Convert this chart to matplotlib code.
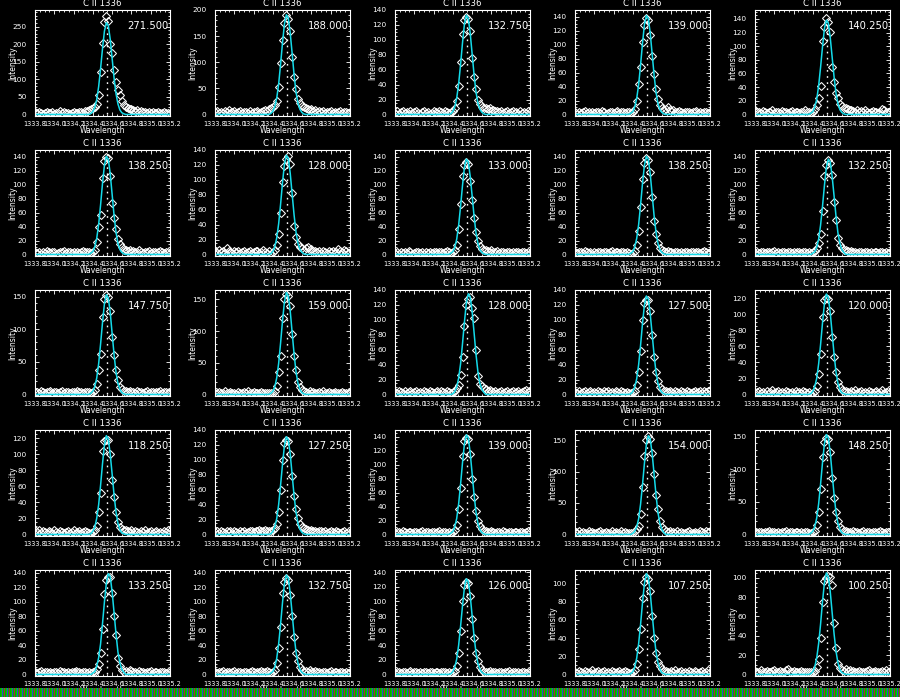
import numpy as np
import matplotlib
matplotlib.use("Agg")
import matplotlib.pyplot as plt
from matplotlib.ticker import MultipleLocator, FormatStrFormatter

plt.rcParams['font.family'] = ['Liberation Sans Narrow', 'DejaVu Sans']

# wavelength grid of the spectra (Angstrom), fit only kept around the line core
wave = np.round(np.linspace(1333.80, 1335.20, 71), 2)
core_slice = slice(29, 47)
line_center = 1334.545

title = "C II 1336"
labels = [271.500, 188.000, 132.750, 139.000, 140.250,
          138.250, 128.000, 133.000, 138.250, 132.250,
          147.750, 159.000, 128.000, 127.500, 120.000,
          118.250, 127.250, 139.000, 154.000, 148.250,
          133.250, 132.750, 126.000, 107.250, 100.250]
ymax = [297, 200, 140, 150, 153,
        150, 140, 150, 150, 150,
        160, 165, 140, 140, 130,
        130, 140, 150, 166, 160,
        144, 144, 143, 115, 108]
ystep = [50, 50, 20, 20, 20,
         20, 20, 20, 20, 20,
         50, 50, 20, 20, 20,
         20, 20, 20, 50, 50,
         20, 20, 20, 20, 20]

# measured intensities: left wing (29) + core (18) + right wing (24)
spec_01 = ([6, 3, 8, 4, 2, 5, 7, 3, 4, 6, 2, 5, 3, 9, 4, 6, 3, 5, 2, 4, 7, 5, 3, 6, 8, 5, 9, 11, 14]
           + [16, 18, 22, 30, 55, 120, 204, 262, 279, 265, 200, 176, 125, 92, 70, 56, 38, 28]
           + [22, 18, 15, 16, 12, 10, 13, 8, 9, 6, 7, 5, 8, 4, 6, 3, 5, 7, 4, 3, 6, 4, 5, 3])
spec_02 = ([4, 7, 3, 5, 2, 6, 4, 8, 3, 5, 6, 2, 4, 7, 3, 5, 4, 2, 6, 3, 5, 4, 7, 3, 5, 6, 8, 7, 10]
           + [12, 14, 18, 26, 52, 98, 142, 176, 190, 183, 160, 110, 72, 48, 30, 22, 17, 14]
           + [12, 10, 9, 11, 7, 8, 5, 6, 4, 7, 3, 5, 4, 6, 3, 5, 2, 4, 6, 3, 5, 4, 3, 5])
spec_03 = ([2, 4, 1, 3, 5, 2, 3, 1, 4, 2, 3, 5, 2, 1, 3, 4, 2, 3, 1, 2, 4, 3, 2, 5, 3, 2, 4, 3, 2]
           + [3, 5, 9, 18, 38, 70, 108, 126, 131, 128, 112, 76, 50, 34, 20, 14, 10, 8]
           + [9, 7, 8, 5, 6, 4, 5, 3, 4, 2, 3, 4, 2, 3, 5, 2, 3, 1, 4, 2, 3, 2, 4, 3])
spec_04 = ([3, 1, 4, 2, 3, 5, 2, 4, 1, 3, 2, 4, 3, 2, 5, 3, 1, 2, 4, 3, 2, 3, 5, 2, 4, 3, 2, 4, 3]
           + [2, 4, 8, 20, 44, 68, 104, 128, 139, 136, 114, 84, 58, 36, 22, 14, 9, 7]
           + [8, 10, 7, 5, 6, 4, 3, 5, 4, 2, 3, 4, 3, 2, 4, 3, 5, 2, 3, 2, 4, 3, 2, 3])
spec_05 = ([6, 3, 4, 2, 5, 3, 2, 4, 3, 6, 2, 3, 4, 2, 5, 3, 4, 2, 3, 5, 2, 4, 3, 2, 3, 4, 6, 3, 4]
           + [2, 4, 8, 14, 24, 42, 107, 128, 141, 136, 121, 69, 48, 32, 24, 16, 12, 9]
           + [10, 8, 6, 7, 5, 4, 6, 3, 5, 4, 6, 3, 2, 4, 5, 3, 4, 2, 3, 8, 6, 4, 3, 5])
spec_06 = ([3, 2, 4, 1, 3, 2, 5, 3, 2, 4, 3, 1, 2, 4, 3, 5, 2, 3, 4, 2, 3, 1, 4, 2, 3, 5, 3, 4, 3]
           + [2, 3, 7, 18, 40, 56, 110, 134, 140, 138, 112, 74, 52, 36, 22, 15, 10, 7]
           + [6, 5, 7, 4, 5, 3, 4, 6, 3, 2, 4, 3, 5, 2, 3, 4, 2, 3, 5, 3, 2, 4, 3, 2])
spec_07 = ([4, 2, 6, 3, 5, 2, 8, 4, 3, 2, 5, 3, 4, 2, 3, 5, 2, 3, 4, 2, 3, 5, 4, 2, 3, 6, 3, 2, 4]
           + [1, 3, 6, 12, 28, 55, 97, 119, 128, 132, 121, 83, 38, 23, 14, 10, 8, 6]
           + [8, 10, 6, 7, 5, 4, 3, 5, 2, 4, 3, 2, 4, 3, 5, 2, 3, 7, 5, 3, 6, 4, 2, 3])
spec_08 = ([2, 3, 1, 4, 2, 3, 2, 5, 3, 1, 2, 4, 3, 2, 3, 1, 4, 2, 3, 2, 4, 3, 2, 3, 4, 2, 3, 5, 3]
           + [2, 3, 6, 14, 36, 72, 112, 128, 133, 130, 106, 78, 52, 32, 20, 12, 8, 6]
           + [6, 5, 4, 6, 3, 4, 5, 2, 3, 4, 2, 3, 4, 2, 3, 2, 4, 3, 2, 3, 4, 2, 3, 2])
spec_09 = ([3, 2, 4, 3, 2, 5, 3, 2, 4, 1, 3, 2, 4, 3, 2, 4, 3, 2, 3, 5, 2, 3, 4, 2, 3, 4, 2, 3, 2]
           + [1, 2, 5, 14, 34, 68, 108, 132, 139, 136, 118, 82, 48, 30, 16, 9, 6, 5]
           + [4, 5, 3, 4, 2, 3, 4, 2, 3, 2, 4, 3, 2, 4, 3, 2, 3, 4, 2, 3, 5, 3, 2, 3])
spec_10 = ([2, 3, 2, 4, 3, 2, 3, 4, 2, 3, 5, 2, 3, 2, 4, 3, 2, 3, 4, 2, 3, 2, 4, 3, 2, 3, 4, 2, 3]
           + [2, 3, 5, 9, 16, 30, 63, 112, 128, 136, 132, 114, 76, 49, 24, 13, 9, 7]
           + [6, 5, 4, 5, 3, 4, 2, 3, 4, 2, 3, 4, 2, 3, 2, 4, 3, 2, 3, 4, 2, 3, 2, 4])
spec_11 = ([3, 4, 2, 5, 3, 2, 4, 3, 5, 2, 3, 4, 2, 3, 5, 2, 4, 3, 2, 3, 4, 2, 5, 3, 4, 2, 3, 4, 3]
           + [2, 4, 7, 16, 38, 62, 118, 146, 152, 150, 128, 88, 60, 38, 22, 12, 8, 5]
           + [5, 4, 6, 3, 4, 2, 5, 3, 4, 2, 3, 5, 2, 4, 3, 2, 4, 3, 5, 2, 3, 4, 2, 3])
spec_12 = ([2, 3, 4, 2, 3, 5, 2, 3, 4, 2, 3, 1, 4, 2, 3, 4, 2, 5, 3, 2, 4, 3, 2, 3, 4, 2, 3, 2, 3]
           + [2, 3, 6, 14, 36, 60, 120, 150, 159, 156, 140, 96, 60, 38, 20, 12, 7, 5]
           + [4, 3, 5, 2, 4, 3, 2, 4, 3, 5, 2, 3, 4, 2, 3, 4, 2, 3, 2, 4, 3, 2, 3, 4])
spec_13 = ([3, 2, 4, 3, 2, 4, 2, 3, 5, 2, 3, 4, 2, 3, 2, 5, 3, 2, 4, 3, 2, 3, 4, 2, 5, 3, 2, 4, 3]
           + [2, 3, 4, 8, 13, 26, 50, 92, 120, 128, 130, 116, 102, 60, 25, 14, 11, 9]
           + [7, 5, 6, 4, 3, 5, 2, 3, 4, 2, 3, 4, 2, 3, 5, 2, 3, 4, 2, 3, 4, 6, 3, 5])
spec_14 = ([3, 2, 4, 2, 3, 5, 2, 3, 4, 2, 3, 2, 4, 3, 2, 4, 3, 5, 2, 3, 2, 4, 3, 2, 4, 3, 2, 3, 2]
           + [2, 3, 5, 12, 30, 58, 100, 122, 127, 126, 112, 80, 50, 30, 18, 10, 7, 5]
           + [4, 3, 5, 3, 2, 4, 3, 2, 4, 3, 2, 5, 3, 2, 3, 4, 2, 3, 4, 2, 5, 3, 4, 6])
spec_15 = ([2, 3, 4, 2, 3, 1, 4, 2, 3, 5, 2, 3, 4, 2, 3, 2, 4, 3, 2, 3, 1, 4, 2, 3, 2, 4, 3, 2, 3]
           + [1, 2, 4, 10, 26, 50, 96, 118, 120, 119, 104, 72, 46, 28, 16, 9, 6, 4]
           + [4, 3, 2, 4, 3, 5, 2, 3, 4, 2, 3, 2, 4, 3, 2, 3, 4, 2, 3, 5, 2, 3, 4, 3])
spec_16 = ([5, 3, 6, 2, 4, 3, 2, 4, 3, 2, 5, 3, 2, 4, 3, 2, 3, 4, 2, 3, 5, 2, 3, 4, 2, 3, 4, 3, 2]
           + [2, 3, 5, 10, 28, 52, 104, 116, 118, 117, 100, 68, 46, 28, 16, 9, 7, 5]
           + [5, 4, 3, 5, 2, 4, 3, 2, 4, 3, 5, 2, 3, 4, 2, 3, 4, 2, 3, 2, 4, 3, 5, 4])
spec_17 = ([3, 4, 2, 5, 3, 2, 4, 3, 5, 2, 4, 3, 2, 5, 3, 4, 2, 3, 5, 4, 3, 5, 4, 6, 5, 4, 6, 5, 4]
           + [4, 6, 8, 14, 30, 60, 100, 122, 127, 125, 108, 78, 52, 34, 22, 14, 10, 8]
           + [7, 6, 5, 6, 4, 5, 3, 4, 5, 3, 4, 2, 3, 4, 3, 2, 4, 3, 2, 3, 4, 2, 3, 2])
spec_18 = ([2, 4, 3, 2, 5, 3, 2, 4, 3, 2, 4, 3, 2, 3, 5, 2, 3, 4, 2, 3, 4, 2, 3, 5, 2, 3, 4, 2, 3]
           + [2, 3, 6, 14, 36, 66, 112, 134, 139, 137, 116, 80, 54, 34, 20, 12, 8, 5]
           + [5, 4, 3, 5, 4, 2, 3, 4, 2, 5, 3, 2, 4, 3, 2, 3, 4, 2, 3, 4, 2, 3, 5, 3])
spec_19 = ([4, 2, 5, 3, 4, 2, 3, 5, 2, 4, 3, 2, 4, 5, 3, 2, 4, 3, 2, 5, 3, 4, 2, 3, 5, 3, 4, 2, 3]
           + [2, 3, 5, 9, 14, 32, 76, 124, 150, 157, 152, 130, 96, 62, 40, 22, 12, 8]
           + [6, 4, 5, 3, 4, 2, 5, 3, 4, 2, 3, 4, 5, 2, 3, 4, 2, 3, 5, 4, 3, 5, 4, 6])
spec_20 = ([3, 2, 4, 3, 2, 4, 3, 5, 2, 3, 4, 2, 3, 2, 4, 3, 5, 2, 3, 4, 2, 3, 4, 2, 3, 2, 4, 3, 2]
           + [2, 3, 6, 14, 34, 70, 118, 142, 148, 146, 126, 86, 56, 34, 20, 12, 8, 6]
           + [5, 3, 4, 2, 5, 3, 4, 2, 3, 5, 2, 4, 3, 2, 4, 3, 2, 3, 5, 4, 2, 3, 4, 3])
spec_21 = ([4, 2, 3, 5, 2, 3, 4, 2, 3, 2, 4, 3, 2, 5, 3, 4, 2, 3, 2, 4, 3, 5, 4, 3, 2, 4, 3, 2, 3]
           + [2, 3, 4, 8, 14, 30, 63, 111, 130, 134, 135, 112, 80, 54, 22, 12, 6, 4]
           + [5, 4, 6, 5, 3, 4, 2, 5, 4, 3, 2, 4, 3, 5, 2, 3, 4, 2, 3, 4, 3, 2, 4, 3])
spec_22 = ([3, 2, 4, 3, 5, 2, 3, 4, 2, 3, 5, 2, 4, 3, 2, 3, 4, 2, 3, 5, 3, 2, 4, 3, 5, 4, 3, 5, 4]
           + [2, 3, 6, 16, 36, 66, 112, 128, 133, 130, 110, 80, 52, 30, 18, 10, 6, 4]
           + [5, 4, 6, 3, 4, 5, 3, 4, 2, 3, 4, 2, 3, 5, 2, 3, 4, 2, 3, 4, 2, 3, 2, 4])
spec_23 = ([2, 4, 3, 2, 3, 4, 2, 3, 5, 2, 3, 4, 2, 3, 2, 4, 3, 2, 3, 4, 2, 3, 4, 2, 3, 4, 3, 2, 3]
           + [2, 3, 5, 12, 30, 60, 100, 122, 126, 125, 108, 76, 50, 30, 18, 10, 6, 4]
           + [4, 3, 5, 2, 4, 3, 2, 4, 3, 2, 4, 3, 5, 2, 3, 4, 2, 3, 2, 4, 3, 2, 4, 3])
spec_24 = ([3, 2, 4, 3, 2, 4, 3, 2, 3, 5, 2, 3, 4, 2, 3, 4, 2, 3, 2, 4, 3, 2, 3, 4, 2, 3, 4, 3, 2]
           + [2, 3, 5, 12, 28, 50, 84, 102, 107, 105, 92, 64, 40, 24, 14, 9, 6, 4]
           + [4, 3, 2, 4, 3, 5, 2, 3, 4, 2, 3, 2, 4, 3, 2, 4, 3, 2, 3, 4, 2, 3, 5, 3])
spec_25 = ([4, 2, 3, 5, 2, 3, 4, 2, 3, 4, 5, 2, 3, 4, 2, 3, 5, 6, 3, 2, 4, 3, 2, 3, 4, 3, 2, 3, 2]
           + [2, 3, 4, 8, 16, 38, 75, 97, 100, 102, 101, 93, 53, 27, 11, 7, 5, 4]
           + [6, 4, 5, 3, 4, 2, 3, 4, 2, 3, 2, 4, 5, 3, 2, 4, 3, 2, 3, 4, 3, 5, 3, 4])

# gaussian fit, 1334.38 - 1334.72 (zero elsewhere)
fit_01 = [3, 8, 20, 42, 79, 130, 187, 237, 261, 253, 214, 159, 104, 59, 30, 13, 5, 2]
fit_02 = [2, 6, 15, 31, 58, 96, 137, 173, 191, 185, 156, 117, 76, 43, 22, 10, 4, 1]
fit_03 = [1, 4, 10, 22, 41, 67, 96, 121, 133, 129, 109, 81, 53, 30, 15, 7, 3, 1]
fit_04 = [2, 4, 11, 23, 43, 71, 102, 129, 142, 138, 117, 87, 57, 32, 16, 7, 3, 1]
fit_05 = [2, 4, 11, 22, 42, 69, 99, 126, 138, 134, 113, 84, 55, 31, 16, 7, 3, 1]
fit_06 = [2, 4, 11, 23, 43, 71, 102, 128, 141, 137, 116, 86, 56, 32, 16, 7, 3, 1]
fit_07 = [1, 4, 10, 22, 41, 67, 96, 121, 133, 129, 109, 81, 53, 30, 15, 7, 3, 1]
fit_08 = [2, 4, 10, 22, 42, 69, 99, 125, 137, 133, 112, 84, 55, 31, 16, 7, 3, 1]
fit_09 = [2, 4, 11, 23, 43, 71, 102, 128, 141, 137, 116, 86, 56, 32, 16, 7, 3, 1]
fit_10 = [0, 2, 4, 10, 22, 42, 69, 99, 125, 137, 133, 112, 84, 55, 31, 16, 7, 3]
fit_11 = [2, 5, 12, 25, 47, 77, 110, 139, 153, 148, 126, 93, 61, 34, 17, 8, 3, 1]
fit_12 = [2, 5, 12, 26, 49, 81, 116, 146, 161, 156, 132, 98, 64, 36, 18, 8, 3, 1]
fit_13 = [0, 1, 4, 10, 22, 41, 68, 97, 123, 135, 131, 111, 83, 54, 30, 15, 7, 3]
fit_14 = [1, 4, 10, 21, 40, 66, 95, 120, 132, 128, 108, 81, 53, 30, 15, 7, 3, 1]
fit_15 = [1, 4, 10, 20, 38, 62, 89, 113, 125, 121, 102, 76, 50, 28, 14, 6, 2, 1]
fit_16 = [1, 4, 9, 20, 37, 61, 88, 111, 123, 119, 100, 75, 49, 28, 14, 6, 2, 1]
fit_17 = [1, 4, 10, 21, 40, 66, 94, 119, 131, 127, 108, 80, 52, 30, 15, 7, 3, 1]
fit_18 = [2, 4, 11, 23, 44, 72, 103, 130, 143, 139, 117, 87, 57, 32, 16, 7, 3, 1]
fit_19 = [0, 2, 5, 12, 25, 48, 79, 113, 143, 157, 152, 129, 96, 63, 35, 18, 8, 3]
fit_20 = [2, 5, 12, 25, 47, 77, 110, 139, 153, 148, 126, 93, 61, 34, 17, 8, 3, 1]
fit_21 = [0, 2, 4, 11, 23, 42, 70, 100, 126, 139, 135, 114, 85, 56, 31, 16, 7, 3]
fit_22 = [2, 4, 10, 22, 42, 69, 99, 125, 137, 133, 112, 84, 55, 31, 16, 7, 3, 1]
fit_23 = [1, 4, 10, 21, 40, 66, 94, 119, 131, 127, 108, 80, 52, 30, 15, 7, 3, 1]
fit_24 = [1, 3, 8, 18, 34, 55, 79, 100, 111, 107, 90, 67, 44, 25, 13, 6, 2, 1]
fit_25 = [1, 3, 8, 17, 32, 52, 75, 95, 105, 101, 86, 64, 42, 24, 12, 5, 2, 1]

spectra = [spec_01, spec_02, spec_03, spec_04, spec_05, spec_06, spec_07, spec_08, spec_09,
           spec_10, spec_11, spec_12, spec_13, spec_14, spec_15, spec_16, spec_17, spec_18,
           spec_19, spec_20, spec_21, spec_22, spec_23, spec_24, spec_25]
fits = [fit_01, fit_02, fit_03, fit_04, fit_05, fit_06, fit_07, fit_08, fit_09, fit_10,
        fit_11, fit_12, fit_13, fit_14, fit_15, fit_16, fit_17, fit_18, fit_19, fit_20,
        fit_21, fit_22, fit_23, fit_24, fit_25]

for s in spectra:
    assert len(s) == len(wave), len(s)

W, H = 900, 697
cyan = '#14dbea'
fig = plt.figure(figsize=(W / 100, H / 100), dpi=100, facecolor='black')

for i in range(25):
    r, c = divmod(i, 5)
    ax = fig.add_axes([(35 + 180 * c) / W, 1 - (116 + 140 * r) / H, 135 / W, 106 / H])
    ax.set_facecolor('black')

    fit_curve = np.zeros(len(wave))
    fit_curve[core_slice] = fits[i]

    ax.plot(wave, spectra[i], linestyle='none', marker='D', ms=3.7,
            mfc='none', mec='white', mew=0.75)
    ax.plot([line_center, line_center], [0, labels[i]], color='white',
            lw=1.0, ls=(0, (1.2, 3.2)))
    ax.plot(wave, fit_curve, color=cyan, lw=1.1)

    ax.set_xlim(1333.8, 1335.2)
    ax.set_ylim(-0.015 * ymax[i], ymax[i])
    ax.xaxis.set_major_locator(MultipleLocator(0.2))
    ax.xaxis.set_minor_locator(MultipleLocator(0.05))
    ax.xaxis.set_major_formatter(FormatStrFormatter('%.1f'))
    ax.yaxis.set_major_locator(MultipleLocator(ystep[i]))
    ax.yaxis.set_minor_locator(MultipleLocator(10 if ystep[i] == 50 else 5))

    for sp in ax.spines.values():
        sp.set_color('white')
        sp.set_linewidth(0.8)
    ax.tick_params(which='both', direction='in', top=True, right=True,
                   colors='white', width=0.6)
    ax.tick_params(which='major', length=3)
    ax.tick_params(which='minor', length=1.5)
    ax.tick_params(axis='y', labelsize=5.3, pad=6.0)
    ax.tick_params(axis='x', labelsize=4.7, pad=3.3)

    ax.text(0.5, 1 + 6.5 / 106, title, transform=ax.transAxes, ha='center',
            va='center', color='white', fontsize=6.2)
    ax.text(0.5, -14.5 / 106, "Wavelength", transform=ax.transAxes, ha='center',
            va='center', color='white', fontsize=5.5)
    ax.text(-22 / 135, 0.5, "Intensity", transform=ax.transAxes, ha='center',
            va='center', rotation=90, color='white', fontsize=5.5)
    ax.text(0.685, 0.85, f"{labels[i]:.3f}", transform=ax.transAxes, ha='left',
            va='center', color='white', fontsize=7.2)

# striped strip along the bottom edge
strip = fig.add_axes([0, 0, 1, 9 / H])
pattern = np.array([[0, 170, 0], [0, 205, 0], [60, 60, 200], [0, 180, 0], [170, 40, 60]]) / 255
strip.imshow(np.tile(pattern, (180, 1))[None, :, :], aspect='auto', interpolation='nearest')
strip.axis('off')

fig.savefig('out.png', dpi=100, facecolor='black')
